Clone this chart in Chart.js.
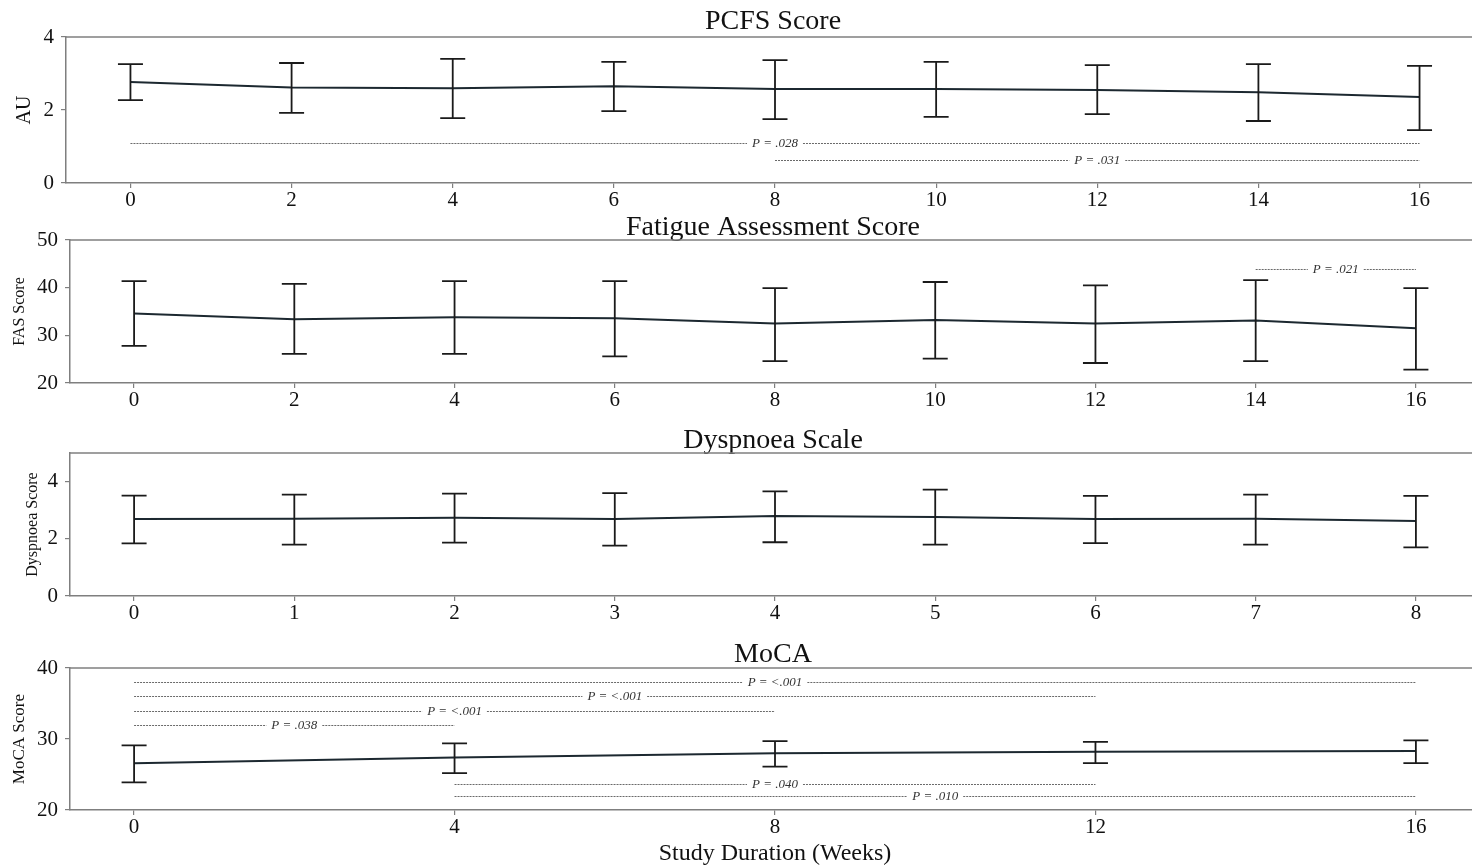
<!DOCTYPE html>
<html>
<head>
<meta charset="utf-8">
<script src="https://cdn.jsdelivr.net/npm/chart.js@4.4.1/dist/chart.umd.min.js"></script>
<style>
  html, body { margin: 0; padding: 0; background: #fff; overflow: hidden; }
  #wrap { position: relative; width: 1472px; height: 868px; overflow: hidden; }
  .panel { position: absolute; left: 0; width: 1546px; }
</style>
</head>
<body>
<div id="wrap">
  <div class="panel" style="top:0px;height:215px"><canvas id="c1"></canvas></div>
  <div class="panel" style="top:204px;height:211px"><canvas id="c2"></canvas></div>
  <div class="panel" style="top:416px;height:212px"><canvas id="c3"></canvas></div>
  <div class="panel" style="top:630px;height:238px"><canvas id="c4"></canvas></div>
</div>
<script>
// PCFS
const pcfsWeeks = [0, 2, 4, 6, 8, 10, 12, 14, 16];
const pcfsMean = [2.77, 2.62, 2.60, 2.65, 2.58, 2.58, 2.55, 2.49, 2.36];
const pcfsLow = [2.27, 1.92, 1.78, 1.97, 1.75, 1.81, 1.89, 1.70, 1.45];
const pcfsHigh = [3.26, 3.29, 3.40, 3.32, 3.37, 3.32, 3.23, 3.26, 3.21];
const pcfsYTicks = [0, 2, 4];
const pcfsSig = [[0, 16, 1.1, 'P = .028'], [8, 16, 0.62, 'P = .031']];

// Fatigue Assessment Score
const fasWeeks = [0, 2, 4, 6, 8, 10, 12, 14, 16];
const fasMean = [34.6, 33.4, 33.8, 33.6, 32.5, 33.2, 32.5, 33.1, 31.5];
const fasLow = [27.8, 26.1, 26.1, 25.6, 24.6, 25.1, 24.2, 24.6, 22.8];
const fasHigh = [41.4, 40.8, 41.4, 41.4, 39.9, 41.2, 40.5, 41.6, 39.9];
const fasYTicks = [20, 30, 40, 50];
const fasSig = [[14, 16, 43.9, 'P = .021']];

// Dyspnoea Scale
const dysWeeks = [0, 1, 2, 3, 4, 5, 6, 7, 8];
const dysMean = [2.69, 2.70, 2.74, 2.69, 2.80, 2.76, 2.69, 2.70, 2.62];
const dysLow = [1.84, 1.80, 1.87, 1.76, 1.88, 1.80, 1.85, 1.80, 1.70];
const dysHigh = [3.51, 3.55, 3.58, 3.60, 3.66, 3.72, 3.50, 3.55, 3.50];
const dysYTicks = [0, 2, 4];
const dysSig = [];

// MoCA
const mocaWeeks = [0, 4, 8, 12, 16];
const mocaMean = [26.6, 27.4, 28.0, 28.2, 28.3];
const mocaLow = [23.9, 25.2, 26.1, 26.6, 26.6];
const mocaHigh = [29.1, 29.4, 29.7, 29.6, 29.8];
const mocaYTicks = [20, 30, 40];
const mocaSig = [
  [0, 16, 38, 'P = <.001'],
  [0, 12, 36, 'P = <.001'],
  [0, 8, 34, 'P = <.001'],
  [0, 4, 32, 'P = .038'],
  [4, 12, 23.6, 'P = .040'],
  [4, 16, 22, 'P = .010']
];

const SERIF = '"Liberation Serif", "DejaVu Serif", serif';
const SPINE = '#7f7f7f';

// error bars, p-value lines and the top spine
const extras = {
  id: 'extras',
  afterDatasetsDraw(chart, args, opts) {
    const { ctx, chartArea } = chart;
    const x = chart.scales.x, y = chart.scales.y;
    ctx.save();
    ctx.strokeStyle = SPINE;
    ctx.lineWidth = 1.5;
    ctx.beginPath();
    ctx.moveTo(chartArea.left, chartArea.top);
    ctx.lineTo(chartArea.right, chartArea.top);
    ctx.stroke();

    // error bars
    const pts = chart.data.datasets[0].data;
    ctx.strokeStyle = '#1a1a1a';
    ctx.lineWidth = 1.8;
    pts.forEach((pt, i) => {
      const px = x.getPixelForValue(pt.x);
      const yl = y.getPixelForValue(opts.low[i]);
      const yh = y.getPixelForValue(opts.high[i]);
      ctx.beginPath();
      ctx.moveTo(px, yl); ctx.lineTo(px, yh);
      ctx.moveTo(px - 12.5, yl); ctx.lineTo(px + 12.5, yl);
      ctx.moveTo(px - 12.5, yh); ctx.lineTo(px + 12.5, yh);
      ctx.stroke();
    });

    // significance lines
    ctx.font = 'italic 13px ' + SERIF;
    ctx.textAlign = 'center';
    ctx.textBaseline = 'middle';
    opts.sig.forEach(s => {
      const x1 = x.getPixelForValue(s[0]);
      const x2 = x.getPixelForValue(s[1]);
      const py = Math.round(y.getPixelForValue(s[2])) + 0.5;
      const mid = (x1 + x2) / 2;
      const half = ctx.measureText(s[3]).width / 2 + 5;
      ctx.strokeStyle = '#6a6a6a';
      ctx.lineWidth = 1;
      ctx.setLineDash([2, 1]);
      ctx.beginPath();
      ctx.moveTo(x1, py); ctx.lineTo(mid - half, py);
      ctx.moveTo(mid + half, py); ctx.lineTo(x2, py);
      ctx.stroke();
      ctx.setLineDash([]);
      ctx.fillStyle = '#333';
      ctx.fillText(s[3], mid, py);
    });
    ctx.restore();
  }
};

function makePanel(id, p) {
  const points = p.weeks.map((w, i) => ({ x: w, y: p.mean[i] }));
  return new Chart(document.getElementById(id), {
    type: 'line',
    data: {
      datasets: [{
        data: points,
        borderColor: '#1c2830',
        borderWidth: 2,
        pointRadius: 0,
        tension: 0,
        fill: false
      }]
    },
    options: {
      responsive: true,
      maintainAspectRatio: false,
      animation: false,
      layout: { padding: 0 },
      plugins: {
        legend: { display: false },
        tooltip: { enabled: false },
        title: {
          display: true,
          text: p.title,
          color: '#111',
          font: { family: SERIF, size: 28, weight: 'normal', lineHeight: 0.86 },
          padding: p.titlePad
        },
        extras: { low: p.low, high: p.high, sig: p.sig }
      },
      scales: {
        x: {
          type: 'linear',
          min: p.xMin,
          max: p.xMax,
          afterBuildTicks: s => { s.ticks = p.weeks.map(v => ({ value: v })); },
          afterFit: s => { s.height = p.xHeight; },
          grid: { display: true, drawOnChartArea: false, drawTicks: true, tickLength: 5, color: SPINE, lineWidth: 1.2 },
          border: { display: true, color: SPINE, width: 1.5 },
          ticks: { color: '#111', font: { family: SERIF, size: 21 }, padding: 0, maxRotation: 0, autoSkip: false },
          title: p.xTitle ? {
            display: true, text: p.xTitle, color: '#111',
            font: { family: SERIF, size: 24 }, padding: { top: 0, bottom: 0 }
          } : { display: false }
        },
        y: {
          min: p.yMin,
          max: p.yMax,
          afterBuildTicks: s => { s.ticks = p.yTicks.map(v => ({ value: v })); },
          afterFit: s => { s.width = p.yWidth; },
          grid: { display: true, drawOnChartArea: false, drawTicks: true, tickLength: 5, color: SPINE, lineWidth: 1.2 },
          border: { display: true, color: SPINE, width: 1.5 },
          ticks: { color: '#111', font: { family: SERIF, size: 21 }, padding: 7 },
          title: {
            display: true, text: p.yTitle, color: '#111',
            font: { family: SERIF, size: p.yTitleSize }, padding: { top: p.yTitlePad, bottom: 0 }
          }
        },
        // empty right-hand axis: keeps the plot running past the page edge
        yRight: {
          position: 'right',
          afterFit: s => { s.width = p.padRight; },
          grid: { display: false },
          border: { display: false },
          ticks: { display: false }
        }
      }
    },
    plugins: [extras]
  });
}

makePanel('c1', {
  title: 'PCFS Score', titlePad: { top: 10, bottom: 3 },
  weeks: pcfsWeeks, mean: pcfsMean, low: pcfsLow, high: pcfsHigh, sig: pcfsSig,
  xMin: -0.8, xMax: 16.8, xHeight: 32, padRight: 62,
  yMin: 0, yMax: 4, yTicks: pcfsYTicks, yWidth: 66,
  yTitle: 'AU', yTitleSize: 20, yTitlePad: 13
});

makePanel('c2', {
  title: 'Fatigue Assessment Score', titlePad: { top: 12, bottom: 0 },
  weeks: fasWeeks, mean: fasMean, low: fasLow, high: fasHigh, sig: fasSig,
  xMin: -0.8, xMax: 16.8, xHeight: 32, padRight: 66,
  yMin: 20, yMax: 50, yTicks: fasYTicks, yWidth: 70,
  yTitle: 'FAS Score', yTitleSize: 16, yTitlePad: 10
});

makePanel('c3', {
  title: 'Dyspnoea Scale', titlePad: { top: 13, bottom: 0 },
  weeks: dysWeeks, mean: dysMean, low: dysLow, high: dysHigh, sig: dysSig,
  xMin: -0.4, xMax: 8.4, xHeight: 32, padRight: 66,
  yMin: 0, yMax: 5, yTicks: dysYTicks, yWidth: 70,
  yTitle: 'Dyspnoea Score', yTitleSize: 16, yTitlePad: 23
});

makePanel('c4', {
  title: 'MoCA', titlePad: { top: 13, bottom: 1 },
  weeks: mocaWeeks, mean: mocaMean, low: mocaLow, high: mocaHigh, sig: mocaSig,
  xMin: -0.8, xMax: 16.8, xHeight: 58, padRight: 66, xTitle: 'Study Duration (Weeks)',
  yMin: 20, yMax: 40, yTicks: mocaYTicks, yWidth: 70,
  yTitle: 'MoCA Score', yTitleSize: 17, yTitlePad: 9
});
</script>
</body>
</html>
